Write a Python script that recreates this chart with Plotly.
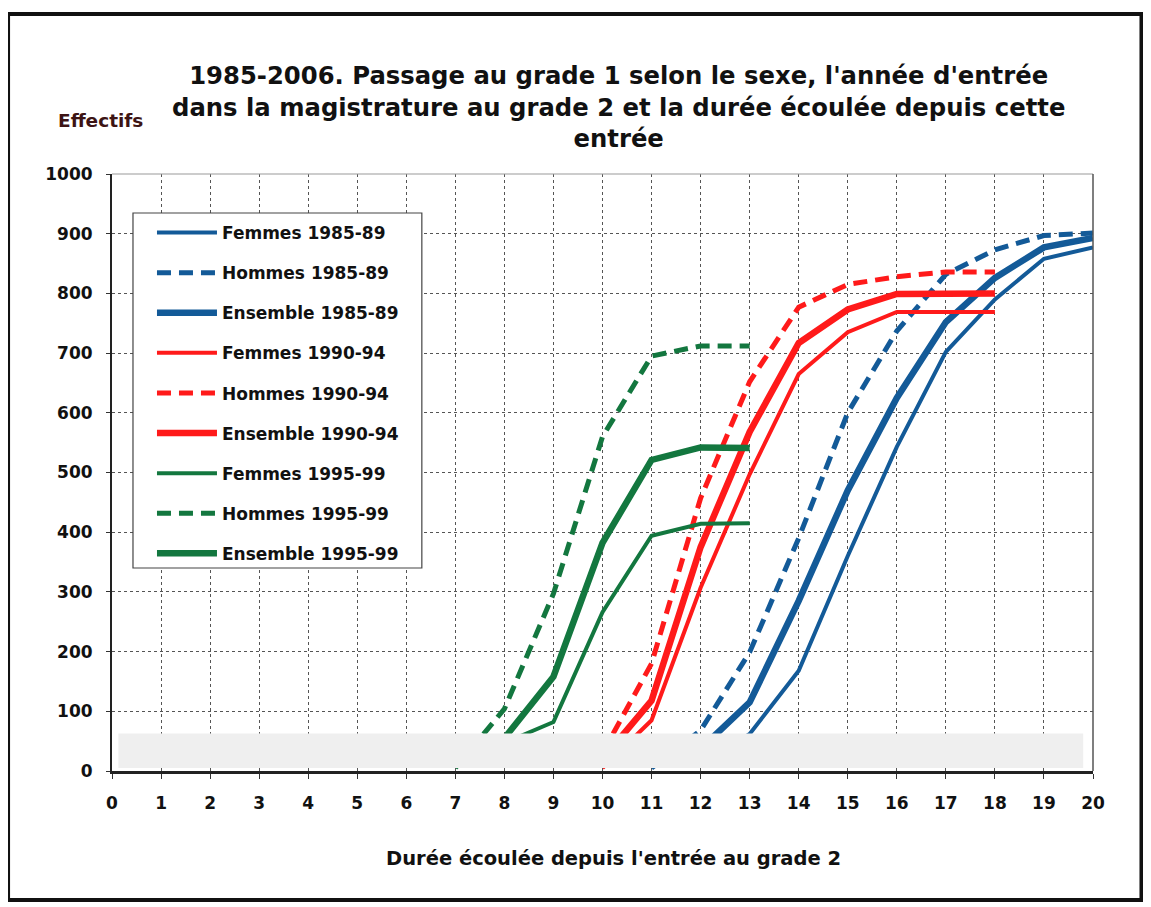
import plotly.graph_objects as go

# ---- data ----
x_f8589 = [12, 13, 14, 15, 16, 17, 18, 19, 20]
femmes_8589 = [10, 62, 168, 360, 543, 702, 790, 858, 877]
x_e8589 = [12, 13, 14, 15, 16, 17, 18, 19, 20]
ensemble_8589 = [37, 115, 285, 470, 625, 752, 826, 877, 893]
x_h8589 = [11, 12, 13, 14, 15, 16, 17, 18, 19, 20]
hommes_8589 = [5, 68, 199, 390, 600, 737, 832, 873, 897, 901]

x_9094 = [10, 11, 12, 13, 14, 15, 16, 17, 18]
femmes_9094 = [5, 85, 307, 497, 665, 735, 769, 769, 769]
ensemble_9094 = [20, 118, 375, 568, 717, 773, 799, 800, 800]
hommes_9094 = [30, 180, 457, 652, 777, 815, 828, 836, 836]

x_f9599 = [8, 9, 10, 11, 12, 13]
femmes_9599 = [47, 82, 266, 394, 414, 415]
x_e9599 = [8, 9, 10, 11, 12, 13]
ensemble_9599 = [55, 158, 382, 521, 542, 541]
x_h9599 = [7, 8, 9, 10, 11, 12, 13]
hommes_9599 = [5, 104, 297, 560, 695, 712, 712]

x_ticks = list(range(0, 21))
y_ticks = list(range(0, 1001, 100))

BLUE = "#135a98"
RED = "#ff1a1a"
GREEN = "#13773f"

series = [
    ("Femmes 1985-89", x_f8589, femmes_8589, BLUE, 4, "solid"),
    ("Hommes 1985-89", x_h8589, hommes_8589, BLUE, 5, "14px,8px"),
    ("Ensemble 1985-89", x_e8589, ensemble_8589, BLUE, 6.5, "solid"),
    ("Femmes 1990-94", x_9094, femmes_9094, RED, 4, "solid"),
    ("Hommes 1990-94", x_9094, hommes_9094, RED, 5, "14px,8px"),
    ("Ensemble 1990-94", x_9094, ensemble_9094, RED, 6.5, "solid"),
    ("Femmes 1995-99", x_f9599, femmes_9599, GREEN, 4, "solid"),
    ("Hommes 1995-99", x_h9599, hommes_9599, GREEN, 5, "14px,8px"),
    ("Ensemble 1995-99", x_e9599, ensemble_9599, GREEN, 6.5, "solid"),
]

fig = go.Figure()
for i, (name, xs, ys, col, w, dash) in enumerate(series):
    fig.add_trace(go.Scatter(
        x=xs, y=ys, mode="lines", name=name,
        line=dict(color=col, width=w, dash=dash),
        legendgroup="g%d" % i,
    ))

# page body has an 8px margin: figure starts at (8, 8) in the window
OFF = 8
W, H = 1143, 899
L, T = 112 - OFF, 174 - OFF
R = W - (1093.5 - OFF)
B = H - (771 - OFF)
pw, ph = W - L - R, H - T - B


def px_x(p):
    return (p - OFF - L) / pw


def px_y(p):
    return (H - B - (p - OFF)) / ph


shapes = [
    # grey band near the bottom of the plot
    dict(type="rect", xref="x", yref="y", x0=0.13, x1=19.8, y0=5, y1=63,
         fillcolor="#efefef", line=dict(width=0), layer="above"),
    # legend box
    dict(type="rect", xref="paper", yref="paper",
         x0=px_x(133), x1=px_x(422), y0=px_y(568), y1=px_y(213),
         fillcolor="white", line=dict(color="#444444", width=1.2), layer="above"),
    # outer frame
    dict(type="rect", xref="paper", yref="paper",
         x0=px_x(8), x1=px_x(1142), y0=px_y(900), y1=px_y(14),
         fillcolor="rgba(0,0,0,0)", line=dict(color="#111111", width=4), layer="above"),
    # top and right borders of the plot area
    dict(type="line", xref="paper", yref="paper", x0=0, x1=1, y0=1, y1=1,
         line=dict(color="#999999", width=1)),
    dict(type="line", xref="paper", yref="paper", x0=1, x1=1, y0=0, y1=1,
         line=dict(color="#555555", width=1.5)),
]

annotations = [
    dict(text="1985-2006. Passage au grade 1 selon le sexe, l'année d'entrée<br>"
              "dans la magistrature au grade 2 et la durée écoulée depuis cette<br>entrée",
         xref="paper", yref="paper", x=px_x(619), y=px_y(107),
         xanchor="center", yanchor="middle", showarrow=False,
         font=dict(family="DejaVu Sans", size=24.3, color="#111111", weight="bold")),
    dict(text="Effectifs", xref="paper", yref="paper", x=px_x(100), y=px_y(120),
         xanchor="center", yanchor="middle", showarrow=False,
         font=dict(family="DejaVu Sans", size=18.5, color="#3d1414", weight="bold")),
    dict(text="Durée écoulée depuis l'entrée au grade 2", xref="paper", yref="paper",
         x=px_x(614), y=px_y(858), xanchor="center", yanchor="middle", showarrow=False,
         font=dict(family="DejaVu Sans", size=19.5, color="#111111", weight="bold")),
]

fig.update_layout(
    width=W, height=H,
    margin=dict(l=L, r=R, t=T, b=B, pad=0),
    paper_bgcolor="white", plot_bgcolor="white",
    showlegend=True,
    legend=dict(
        x=px_x(152), y=px_y(215), xanchor="left", yanchor="top",
        bgcolor="rgba(0,0,0,0)", borderwidth=0,
        font=dict(family="DejaVu Sans", size=17, color="#111111", weight="bold"),
        tracegroupgap=15, traceorder="grouped", itemwidth=60,
    ),
    shapes=shapes,
    annotations=annotations,
    xaxis=dict(
        range=[0, 20], tickmode="array", tickvals=x_ticks,
        ticktext=[str(v) for v in x_ticks],
        showgrid=True, gridcolor="#555555", griddash="dot", gridwidth=1,
        showline=True, linecolor="#222222", linewidth=3,
        ticks="outside", ticklen=5, tickcolor="#333333",
        ticklabelstandoff=10,
        tickfont=dict(family="DejaVu Sans", size=17, color="#111111", weight="bold"),
        zeroline=False, fixedrange=True,
    ),
    yaxis=dict(
        range=[0, 1000], tickmode="array", tickvals=y_ticks,
        ticktext=[str(v) for v in y_ticks],
        showgrid=True, gridcolor="#555555", griddash="dot", gridwidth=1,
        showline=True, linecolor="#222222", linewidth=2,
        ticks="outside", ticklen=4, tickcolor="#333333",
        ticklabelstandoff=10,
        tickfont=dict(family="DejaVu Sans", size=17, color="#111111", weight="bold"),
        zeroline=False, fixedrange=True,
    ),
)

fig.write_html("out.html")
